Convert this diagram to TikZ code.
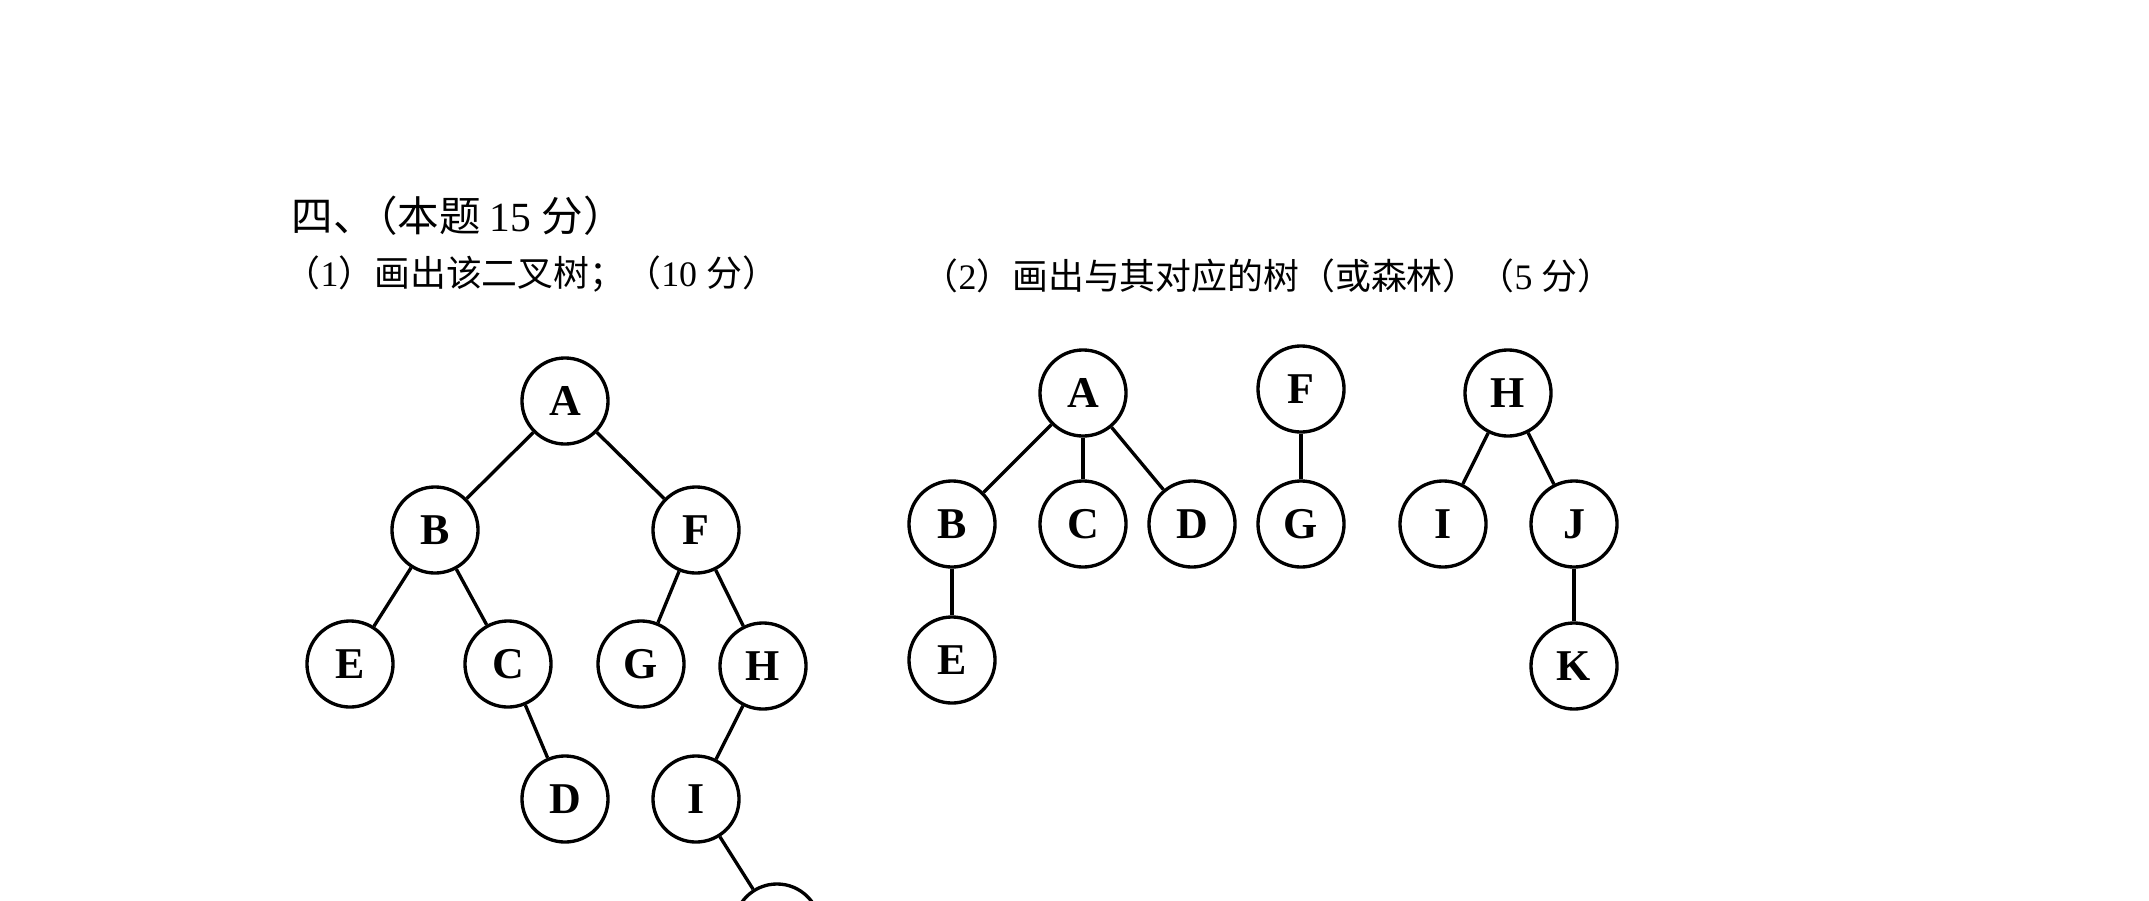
\documentclass[tikz,border=0pt]{standalone}
\usepackage{fontspec}
\setmainfont{Liberation Serif}
\newfontfamily\cjk{Noto Sans CJK SC}
\usetikzlibrary{positioning}

\begin{document}
\begin{tikzpicture}[
  x=0.01cm, y=-0.01cm,
  line width=0.95pt,
  mynode/.style={
    draw,
    circle,
    minimum size=0.86cm,
    inner sep=0pt,
    font=\fontsize{12.5pt}{14pt}\selectfont\bfseries
    },
  mytitle/.style={
    anchor=west,
    inner sep=0pt,
    font=\fontsize{#1}{1.2\dimexpr#1\relax}\selectfont
  }
]
\useasboundingbox (0,0) rectangle (2149,900);

\node[mytitle=11.8pt] (head) at (290,216) {{\cjk 四、\kern-0.45em（本题 }15 {\cjk 分）}};
\node[mytitle=10.2pt] (part1) at (283,274) {{\cjk （}1{\cjk ）画出该二叉树；（}10 {\cjk 分）}};
\node[mytitle=10.2pt] (part2) at (921,276) {{\cjk （}2{\cjk ）画出与其对应的树（或森林）（}5 {\cjk 分）}};

% binary tree
\node[mynode] (binA) at (565,401) {A};
\node[mynode] (binB) at (435,530) {B};
\node[mynode] (binF) at (696,530) {F};
\node[mynode] (binE) at (350,664) {E};
\node[mynode] (binC) at (508,664) {C};
\node[mynode] (binG) at (641,664) {G};
\node[mynode] (binH) at (763,666) {H};
\node[mynode] (binD) at (565,799) {D};
\node[mynode] (binI) at (696,799) {I};
\node[mynode] (binJ) at (777,927) {};
\foreach \From/\To in {binA/binB, binA/binF, binB/binE, binB/binC, binC/binD,
                       binF/binG, binF/binH, binH/binI, binI/binJ}
  \draw (\From) -- (\To);

% forest
\node[mynode] (forA) at (1083,393) {A};
\node[mynode] (forB) at (952,524) {B};
\node[mynode] (forC) at (1083,524) {C};
\node[mynode] (forD) at (1192,524) {D};
\node[mynode] (forE) at (952,660) {E};
\node[mynode] (forF) at (1301,389) {F};
\node[mynode] (forG) at (1301,524) {G};
\node[mynode] (forH) at (1508,393) {H};
\node[mynode] (forI) at (1443,524) {I};
\node[mynode] (forJ) at (1574,524) {J};
\node[mynode] (forK) at (1574,666) {K};
\foreach \From/\To in {forA/forB, forA/forC, forA/forD, forB/forE,
                       forF/forG, forH/forI, forH/forJ, forJ/forK}
  \draw (\From) -- (\To);

\end{tikzpicture}
\end{document}
